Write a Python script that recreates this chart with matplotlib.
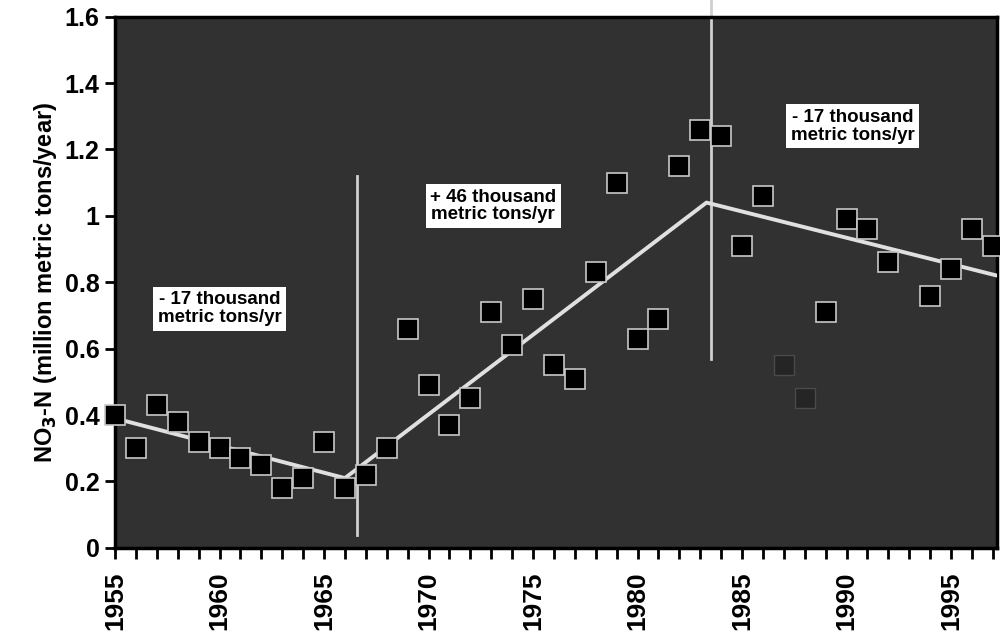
import matplotlib.pyplot as plt

# yearly NO3-N flux
years = [1955, 1956, 1957, 1958, 1959, 1960, 1961, 1962, 1963, 1964,
         1965, 1966, 1967, 1968, 1969, 1970, 1971, 1972, 1973, 1974,
         1975, 1976, 1977, 1978, 1979, 1980, 1981, 1982, 1983, 1984,
         1985, 1986, 1989, 1990, 1991, 1992, 1994, 1995, 1996, 1997]
flux = [0.40, 0.30, 0.43, 0.38, 0.32, 0.30, 0.27, 0.25, 0.18, 0.21,
        0.32, 0.18, 0.22, 0.30, 0.66, 0.49, 0.37, 0.45, 0.71, 0.61,
        0.75, 0.55, 0.51, 0.83, 1.10, 0.63, 0.69, 1.15, 1.26, 1.24,
        0.91, 1.06, 0.71, 0.99, 0.96, 0.86, 0.76, 0.84, 0.96, 0.91]

# barely visible points in the scan
faint_years = [1987, 1988]
faint_flux = [0.55, 0.45]

# piecewise trend
trend_years = [1955, 1966, 1983.3, 1997.2]
trend_flux = [0.39, 0.21, 1.04, 0.82]

# break lines (x, ymin, ymax)
breaks = [(1966.6, 0.04, 1.12), (1983.5, 0.57, 1.66)]

notes = ["- 17 thousand\nmetric tons/yr", "+ 46 thousand\nmetric tons/yr",
         "- 17 thousand\nmetric tons/yr"]
note_pos = [(1960.0, 0.72), (1973.1, 1.03), (1990.3, 1.27)]

yticks = [0, 0.2, 0.4, 0.6, 0.8, 1, 1.2, 1.4, 1.6]
ytick_labels = ['0', '0.2', '0.4', '0.6', '0.8', '1', '1.2', '1.4', '1.6']
xlabel_years = [1955, 1960, 1965, 1970, 1975, 1980, 1985, 1990, 1995]

plt.rcParams['font.family'] = ['Liberation Sans', 'DejaVu Sans']
plt.rcParams['font.weight'] = 'bold'

fig = plt.figure(figsize=(10, 6.4), dpi=100)
ax = fig.add_axes([0.115, 0.144, 0.882, 0.83])
ax.set_facecolor('#313131')

ax.plot(trend_years, trend_flux, color='#e0e0e0', lw=2.8, zorder=3)
for bx, y0, y1 in breaks:
    ax.plot([bx, bx], [y0, y1], color='#cfcfcf', lw=2, zorder=2, clip_on=False)

ax.plot(faint_years, faint_flux, ls='none', marker='s', ms=14,
        mfc='#252525', mec='#4a4a4a', mew=1, zorder=3)
ax.plot(years, flux, ls='none', marker='s', ms=14.5,
        mfc='black', mec='#c8c8c8', mew=1.2, zorder=4, clip_on=False)

for txt, (tx, ty) in zip(notes, note_pos):
    ax.text(tx, ty, txt, ha='center', va='center', fontsize=13.5, fontweight='bold',
            linespacing=1.05, zorder=5,
            bbox=dict(boxstyle='square,pad=0.25', fc='white', ec='none'))

ax.set_xlim(1955, 1997.2)
ax.set_ylim(0, 1.6)
ax.set_xticks(range(1955, 1998))
ax.set_xticklabels([str(y) if y in xlabel_years else '' for y in range(1955, 1998)],
                   rotation=90, fontsize=19, fontweight='bold')
ax.set_yticks(yticks)
ax.set_yticklabels(ytick_labels, fontsize=18, fontweight='bold')
ax.tick_params(axis='x', direction='out', length=8, width=2, pad=9)
ax.tick_params(axis='y', direction='out', length=7, width=2, pad=4)
for s in ax.spines.values():
    s.set_color('black')
    s.set_linewidth(2.5)

ax.set_ylabel('NO$_3$-N (million metric tons/year)', fontsize=17, fontweight='bold',
              labelpad=4)

fig.savefig('out.png', dpi=100)
